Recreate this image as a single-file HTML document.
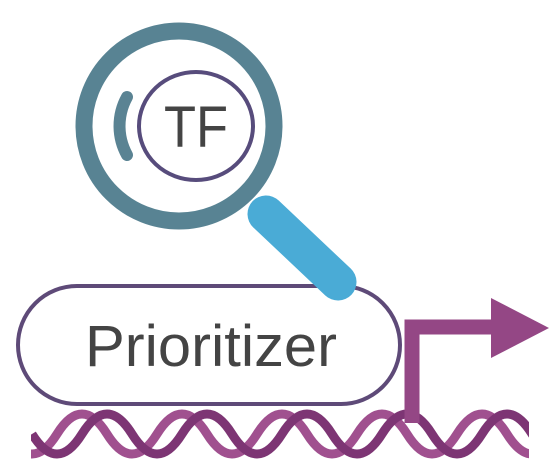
<!DOCTYPE html>
<html><head><meta charset="utf-8"><style>
html,body{margin:0;padding:0;background:#fff;width:557px;height:460px;overflow:hidden}
</style></head><body>
<svg width="557" height="460" viewBox="0 0 557 460" xmlns="http://www.w3.org/2000/svg">
<defs><clipPath id="c"><rect x="31" y="400" width="498" height="60"/></clipPath></defs>
<!-- magnifier -->
<circle cx="179" cy="126" r="95" fill="none" stroke="#588393" stroke-width="17"/>
<path d="M127,97 A60,60 0 0 0 127,155" fill="none" stroke="#5a8393" stroke-width="12" stroke-linecap="round"/>
<ellipse cx="196" cy="126" rx="57" ry="54" fill="none" stroke="#574c7c" stroke-width="4"/>
<text x="196" y="147" text-anchor="middle" font-family="Liberation Sans, sans-serif" font-size="58" textLength="64" lengthAdjust="spacingAndGlyphs" fill="#444">TF</text>
<!-- pill -->
<rect x="18" y="286" width="382" height="118" rx="59" fill="#fff" stroke="#5e4a78" stroke-width="4"/>
<text x="211" y="366" text-anchor="middle" font-family="Liberation Sans, sans-serif" font-size="58" textLength="252" lengthAdjust="spacingAndGlyphs" fill="#444">Prioritizer</text>
<line x1="266" y1="214" x2="338" y2="282" stroke="#4aabd6" stroke-width="37" stroke-linecap="round"/>
<!-- DNA -->
<g clip-path="url(#c)" fill="none" stroke-width="9">
<path d="M7,434 q25,40 50,0 t50,0 t50,0 t50,0 t50,0 t50,0 t50,0 t50,0 t50,0 t50,0 t50,0 t50,0 t50,0" stroke="#a0508f"/>
<path d="M32,434 q25,40 50,0 t50,0 t50,0 t50,0 t50,0 t50,0 t50,0 t50,0 t50,0 t50,0 t50,0 t50,0" stroke="#7d3574"/>
</g>
<!-- arrow -->
<path d="M412,423 V327 H495" fill="none" stroke="#944785" stroke-width="15"/>
<polygon points="491,298 549,328 491,358" fill="#944785"/>
</svg>
</body></html>
